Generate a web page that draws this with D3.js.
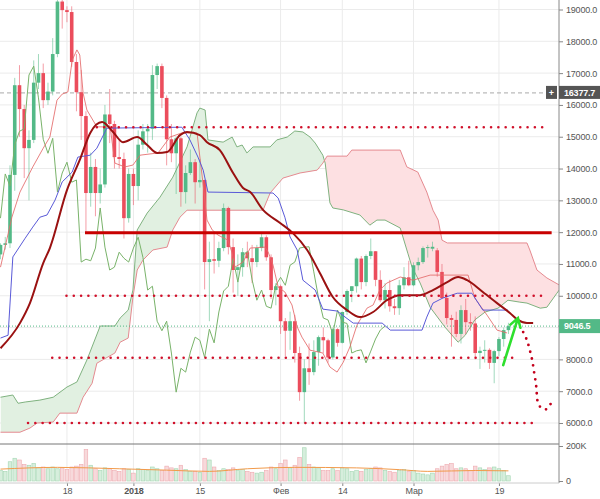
<!DOCTYPE html>
<html>
<head>
<meta charset="utf-8">
<script src="https://cdn.jsdelivr.net/npm/d3@7"></script>
<style>
  body { margin: 0; background: #fff; }
  svg { display: block; font-family: "Liberation Sans", Arial, sans-serif; }
</style>
</head>
<body>
<svg id="chart" width="600" height="499"></svg>
<script>
// daily BTC candles, day 0 = 4 Dec 2017 ... day 107 = 21 Mar 2018
var opens = [11300,11600,11650,13800,16620,15870,14640,14900,16700,17000,
  16150,16420,17600,19250,18980,18920,17350,16400,15650,13230,
  14050,13230,13500,15700,15400,14360,14300,12440,13830,13450,
  14750,15170,15250,16940,17220,16220,14920,14480,14950,13260,
  13860,14200,13570,13640,11060,11150,11100,11500,12760,11530,
  10810,10900,11370,11180,11060,11500,11840,11210,10180,10300,
  9200,8900,9200,8200,6970,7720,7600,8230,8700,8600,
  8060,8950,8520,9490,10150,10300,11170,10430,11250,11400,
  10500,9860,10180,9670,9610,10330,10580,10330,10960,11060,
  11500,11480,11430,10750,9930,9300,9240,8800,9550,9170,
  9130,8200,8270,8300,7890,8260,8640,8920];
var highs = [11650,11850,14100,16850,17250,16000,15200,17400,17600,17300,
  16700,18100,19700,19800,19100,19100,17600,17100,15800,14500,
  14300,14000,16000,16500,15500,14900,14500,14000,14000,15200,
  15400,15400,17250,17300,17300,16300,15400,15000,15000,14100,
  14600,14300,14300,13650,11700,12000,11700,12900,12800,11800,
  11300,11500,11700,11600,11600,12000,11900,11300,10400,10350,
  9300,9500,9400,8400,8000,8500,8600,8750,9000,8650,
  9000,8980,9500,10200,10300,11200,11250,11300,11800,11400,
  10800,10400,10500,9900,10500,10900,11100,11050,11200,11550,
  11600,11700,11500,11000,10100,9400,9500,9700,9900,9450,
  9350,8400,8600,8350,8300,8700,9000,9150];
var lows = [11150,11450,11500,13300,15000,13700,13000,14800,16500,15900,
  16000,16300,17500,18400,18600,17200,15800,14900,12000,12800,
  12500,12900,13400,14800,14000,14000,11800,12300,12850,13000,
  14600,14500,14900,16500,15900,14100,14200,13200,12800,12900,
  13800,12900,13400,10200,9200,10700,10900,11400,11300,10100,
  10000,10600,10900,10400,10900,11400,11100,9900,9700,8800,
  8100,8300,7900,6700,6000,7200,7500,7800,8200,7900,
  8000,8400,8500,9400,9800,10100,10200,10300,11150,10300,
  9800,9600,9500,9400,9400,10200,10300,10300,10800,11000,
  11200,11400,10600,9900,9100,8400,8700,8500,8800,8900,
  8000,7700,7900,7700,7250,8100,8400,8800];
var closes = [11600,11650,13800,16620,15870,14640,14900,16700,17000,16150,
  16420,17600,19250,18980,18920,17350,16400,15650,13230,14050,
  13230,13500,15700,15400,14360,14300,12440,13830,13450,14750,
  15170,15250,16940,17220,16220,14920,14480,14950,13260,13860,
  14200,13570,13640,11060,11150,11100,11500,12760,11530,10810,
  10900,11370,11180,11060,11500,11840,11210,10180,10300,9200,
  8900,9200,8200,6970,7720,7600,8230,8700,8600,8060,
  8950,8520,9490,10150,10300,11170,10430,11250,11400,10500,
  9860,10180,9670,9610,10330,10580,10330,10960,11060,11500,
  11530,11540,10750,9930,9300,9240,8800,9550,9170,9130,
  8200,8270,8300,7890,8260,8640,8920,9046.5];
// volume, thousands
var volumes = [60,55,110,130,120,95,90,100,75,80,
  70,80,70,75,65,80,85,95,180,90,
  70,60,75,70,60,55,70,65,45,70,
  65,60,80,70,60,85,75,70,90,65,
  55,55,50,130,120,80,60,70,65,75,
  60,65,55,50,45,50,60,80,70,100,
  120,75,90,135,190,95,80,75,60,60,
  70,60,75,70,55,60,55,65,70,80,
  75,60,55,50,60,65,55,60,45,40,
  35,45,70,85,95,100,70,75,70,60,
  85,75,65,75,80,70,60,30];
var volumeAvg = [[0,68],[12,78],[25,70],[35,62],[44,55],[52,70],[62,78],[75,75],[84,65],[90,55],[100,60],[107,58]];

// indicator lines: [day, price]
var movingAvg = [[0,8350],[4.1,9140],[6.2,9770],[9,11030],[10.4,11500],[14,13320],[16.7,14270],[18.9,15120],
  [21.4,15460],[23.7,15150],[25.8,14830],[28.8,14990],[30.9,14740],[33,14490],[35.1,14520],[37.8,15050],
  [39.3,15150],[42,15050],[43.5,14830],[46.2,14580],[49,13860],[51.1,13390],[52.6,13260],[55.3,12700],
  [58.9,12290],[61.6,11970],[64.6,11440],[67.3,10710],[70,9960],[73,9550],[75.7,9330],[78.5,9490],
  [81.4,9860],[84.2,10020],[88.4,10020],[91.1,10180],[94.1,10430],[96.4,10590],[98.3,10490],
  [101.6,10120],[104.6,9770],[107.3,9460],[109,9240],[110.9,9140],[112.2,9140]];
var kijun = [[0,8670],[1.6,8760],[2.6,11220],[5.2,11810],[6.8,12160],[8.3,12470],[9.8,12540],[11.5,13010],
  [13,13580],[15.1,13890],[16.3,14360],[18.9,14420],[20.3,14640],[22.4,15270],[38.2,15300],[39.9,14900],
  [41.6,14360],[42.7,13950],[43.7,13260],[57.4,13230],[58.5,13070],[59.9,12470],[61,11850],[62.5,11440],
  [63.7,10490],[66.3,10180],[67.9,9580],[70.9,9520],[74.3,9140],[80.4,9140],[82.1,8920],[88.8,8920],
  [89.8,9330],[91.1,9770],[93.2,9930],[96.2,10080],[99.3,10080],[101.6,9550],[106.9,9550]];
var tenkan = [[0,10900],[2.4,12470],[4.1,13260],[6.8,14050],[9,14640],[10.4,14990],[11.9,16150],[13,16340],
  [14.2,16410],[15.1,17410],[16.1,17730],[16.7,17570],[17.4,16370],[18.2,15840],[20.3,15310],[23.1,15310],
  [24.1,14170],[26.2,14050],[27.9,14110],[29.4,14420],[33.2,14490],[35.7,14990],[38.2,15120],[41.4,15120],
  [42.7,13480],[43.5,12380],[44.6,12070],[45.8,11910],[47.9,11750],[48.8,11340],[49.4,10900],[51.1,11060],
  [52.6,11500],[55.7,11530],[56.4,11370],[57.4,10970],[58.5,10270],[59.9,10120],[61.4,9710],[62.5,9020],
  [63.5,8700],[65.2,8290],[67.9,8200],[69.4,7760],[70.9,7600],[72.2,7910],[73.6,8390],[75.1,9080],
  [77.2,9610],[78.5,9710],[79.9,10180],[81.4,10400],[84.2,10590],[86.9,10490],[90.5,10650],[98.5,10650],
  [99.9,9930],[102.5,9390],[104.6,8920],[106.7,8830]];
var spanA = [[0,6810],[2.6,6880],[3.7,6620],[5.2,6660],[8.3,6720],[11.1,6810],[14,7130],[16.1,7290],
  [18.2,7980],[21,9050],[24.1,9050],[25.2,9300],[26.9,9550],[27.9,10180],[28.8,12070],[30.9,12600],
  [33.6,13100],[36.3,13730],[39.3,14680],[41.4,15750],[42,15900],[43.1,15840],[43.7,14900],[46.9,14830],
  [48.8,14990],[49.8,14680],[50.9,14740],[51.9,14490],[53.2,14680],[56.8,14680],[58.2,14900],[60.4,14990],
  [62,15180],[63.7,15150],[65.2,14990],[66.3,14800],[67.9,14420],[68.4,14170],[69.4,12920],[70,12760],
  [72.2,12700],[75.7,12540],[77.8,12220],[79.3,12380],[81,12380],[84.2,12130],[85.8,11340],[86.7,10900],
  [88.4,10400],[90.5,9640],[93.6,9020],[96.4,8540],[97.9,8760],[99.9,9240],[102.1,9490],[104.8,9610],
  [106.9,9860],[109.4,9800],[110.9,9770],[113.7,9610],[115.1,9640],[117.2,10080],[117.7,10180]];
var spanB = [[0,5710],[4.1,5710],[6.2,5840],[7.7,6000],[11.1,6030],[12.5,6310],[16.1,6310],[17.4,6810],
  [19.3,7250],[20.3,7880],[24.1,8200],[25.2,8540],[26.9,8670],[27.9,9960],[28.8,10810],[30,11120],
  [32.1,11440],[35.1,11530],[36.3,12070],[37.8,12470],[39.3,12690],[55.3,12690],[56.8,13230],[59.5,13700],
  [63.1,13860],[66.7,13950],[67.9,14170],[68.8,14390],[73,14390],[74,14580],[84.2,14580],[85.6,14050],
  [87.9,13890],[89.8,13260],[91.1,12690],[92.2,12380],[93,11750],[94.1,11660],[110.9,11660],[111.5,11440],
  [113,10810],[115.1,10560],[117.7,10340]];
var laggingShift = 26;

// drawn annotations
var dottedLevels = [15300, 10000, 8050, 6000];
var dottedFrom = [20.3, 13.9, 10.9, 5.8];
var dottedTo = [115.1, 114.7, 109, 113];
var solidLevel = 11980, solidFrom = 17.8, solidTo = 116.1;
var forecast = [[110.1,8860],[110.9,8600],[111.5,8290],[112,7980],[112.4,7600],[112.8,7220],[113,6880],
  [113.3,6590],[114.3,6440],[115.1,6440],[116.2,6690]];
var arrowTail = [105.9, 7820], arrowTip = [109, 9300];
var highMark = 16377.7, lastPrice = 9046.5;

var priceTicks = [6000,7000,8000,9000,10000,11000,12000,13000,14000,15000,16000,17000,18000,19000];
var priceLabels = [6000,7000,8000,10000,11000,12000,13000,14000,15000,16000,17000,18000,19000]; // 9000 sits under the last-price badge
var tickDays = [14, 28, 42, 59, 72, 87, 105];
var tickLabels = ["18", "2018", "15", "Фев", "14", "Мар", "19"];

var plotW = 559, priceH = 444, volBottom = 483;
var UP = "#53b987", DOWN = "#eb4d5c";

var svg = d3.select("#chart");
var x = d3.scaleLinear().domain([-0.105, 117.65]).range([0, plotW]);
var y = d3.scaleLinear().domain([6000, 19000]).range([423, 9.5]);
var yVol = d3.scaleLinear().domain([0, 200]).range([481, 446]);
var px = p => x(p[0]), py = p => y(p[1]);
var line = d3.line().x(px).y(py);

var defs = svg.append("defs");
defs.append("clipPath").attr("id", "clipPrice").append("rect").attr("width", plotW).attr("height", priceH);
defs.append("clipPath").attr("id", "clipVol").append("rect")
  .attr("y", priceH).attr("width", plotW).attr("height", volBottom - priceH);
defs.append("clipPath").attr("id", "aboveB").append("path")
  .attr("d", d3.area().x(px).y0(0).y1(py)(spanB));
defs.append("clipPath").attr("id", "belowB").append("path")
  .attr("d", d3.area().x(px).y0(priceH).y1(py)(spanB));

// grid
svg.append("g").selectAll("line.h").data(priceTicks).enter().append("line").attr("class", "h")
  .attr("x1", 0).attr("x2", plotW).attr("y1", d => y(d)).attr("y2", d => y(d))
  .attr("stroke", "#ebebeb");
svg.append("g").selectAll("line.v").data(tickDays).enter().append("line").attr("class", "v")
  .attr("x1", d => x(d)).attr("x2", d => x(d)).attr("y1", 0).attr("y2", volBottom)
  .attr("stroke", "#ebebeb");

var price = svg.append("g").attr("clip-path", "url(#clipPrice)");

// ichimoku cloud
price.append("path").attr("d", d3.area().x(px).y0(py).y1(priceH)(spanA))
  .attr("clip-path", "url(#aboveB)").attr("fill", "#e1f0e1");
price.append("path").attr("d", d3.area().x(px).y0(0).y1(py)(spanA))
  .attr("clip-path", "url(#belowB)").attr("fill", "#fde0e2");
price.append("path").attr("d", line(spanA)).attr("fill", "none").attr("stroke", "#7fb27f").attr("stroke-width", 1);
price.append("path").attr("d", line(spanB)).attr("fill", "none").attr("stroke", "#e58a90").attr("stroke-width", 1);

// reference lines
price.append("line").attr("x1", 0).attr("x2", x(114.7)).attr("y1", y(highMark)).attr("y2", y(highMark))
  .attr("stroke", "#aaa").attr("stroke-dasharray", "4,3");
price.append("line").attr("x1", 0).attr("x2", plotW).attr("y1", y(lastPrice)).attr("y2", y(lastPrice))
  .attr("stroke", UP).attr("stroke-dasharray", "1,2");

// candles
var idx = d3.range(opens.length);
var candles = price.append("g");
candles.selectAll("line").data(idx).enter().append("line")
  .attr("x1", i => x(i)).attr("x2", i => x(i))
  .attr("y1", i => y(highs[i])).attr("y2", i => y(lows[i]))
  .attr("stroke", i => closes[i] >= opens[i] ? UP : DOWN).attr("stroke-opacity", 0.55);
candles.selectAll("rect").data(idx).enter().append("rect")
  .attr("x", i => x(i) - 1.8).attr("width", 3.6)
  .attr("y", i => y(Math.max(opens[i], closes[i])))
  .attr("height", i => Math.max(1, Math.abs(y(opens[i]) - y(closes[i]))))
  .attr("fill", i => closes[i] >= opens[i] ? UP : DOWN);

// indicator lines
var lagging = d3.range(opens.length - laggingShift).map(i => [i, closes[i + laggingShift]]);
price.append("path").attr("d", line(lagging)).attr("fill", "none").attr("stroke", "#79b36a").attr("stroke-width", 1);
price.append("path").attr("d", line(tenkan)).attr("fill", "none").attr("stroke", "#e46a6a").attr("stroke-width", 1).attr("stroke-opacity", 0.85);
price.append("path").attr("d", line(kijun)).attr("fill", "none").attr("stroke", "#5a5ad8").attr("stroke-width", 1);
price.append("path").attr("d", d3.line().x(px).y(py).curve(d3.curveMonotoneX)(movingAvg))
  .attr("fill", "none").attr("stroke", "#9a1111").attr("stroke-width", 2);

// drawn levels
price.selectAll("line.dot").data(dottedLevels).enter().append("line").attr("class", "dot")
  .attr("x1", (d, i) => x(dottedFrom[i])).attr("x2", (d, i) => x(dottedTo[i]))
  .attr("y1", d => y(d)).attr("y2", d => y(d))
  .attr("stroke", "#d0102a").attr("stroke-width", 2.6)
  .attr("stroke-linecap", "round").attr("stroke-dasharray", "0,7.3");
price.append("line").attr("x1", x(solidFrom)).attr("x2", x(solidTo))
  .attr("y1", y(solidLevel)).attr("y2", y(solidLevel))
  .attr("stroke", "#c80000").attr("stroke-width", 3);
price.append("path").attr("d", d3.line().x(px).y(py).curve(d3.curveCatmullRom)(forecast))
  .attr("fill", "none").attr("stroke", "#c4001c").attr("stroke-width", 2.8)
  .attr("stroke-linecap", "round").attr("stroke-dasharray", "0,7");

// green arrow
var ax0 = x(arrowTail[0]), ay0 = y(arrowTail[1]), ax1 = x(arrowTip[0]), ay1 = y(arrowTip[1]);
var ang = Math.atan2(ay1 - ay0, ax1 - ax0), hl = 10;
price.append("path")
  .attr("d", "M" + ax0 + "," + ay0 + "L" + ax1 + "," + ay1 +
    "M" + (ax1 - hl * Math.cos(ang - 0.55)) + "," + (ay1 - hl * Math.sin(ang - 0.55)) +
    "L" + ax1 + "," + ay1 +
    "L" + (ax1 - hl * Math.cos(ang + 0.55)) + "," + (ay1 - hl * Math.sin(ang + 0.55)))
  .attr("fill", "none").attr("stroke", "#2ee02e").attr("stroke-width", 2.6).attr("stroke-linecap", "round");

// volume panel
var vol = svg.append("g").attr("clip-path", "url(#clipVol)");
vol.selectAll("rect").data(idx).enter().append("rect")
  .attr("x", i => x(i) - 1.8).attr("width", 3.6)
  .attr("y", i => yVol(volumes[i])).attr("height", i => yVol(0) - yVol(volumes[i]))
  .attr("fill", i => closes[i] >= opens[i] ? "#d6eedc" : "#f7d9db")
  .attr("stroke", i => closes[i] >= opens[i] ? "#a3d6b2" : "#eeaab0").attr("stroke-width", 0.6);
vol.append("path").attr("d", d3.line().x(px).y(p => yVol(p[1])).curve(d3.curveMonotoneX)(volumeAvg))
  .attr("fill", "none").attr("stroke", "#f29a4a").attr("stroke-width", 1);

svg.append("line").attr("x1", 0).attr("x2", plotW).attr("y1", priceH).attr("y2", priceH)
  .attr("stroke", "#777");
svg.append("line").attr("x1", plotW).attr("x2", plotW).attr("y1", 0).attr("y2", volBottom)
  .attr("stroke", "#888");

// axes
function styleAxis(g) {
  g.select(".domain").remove();
  g.selectAll("line").attr("stroke", "#888");
  g.selectAll("text").attr("fill", "#555").attr("font-size", 9)
    .attr("font-family", "Liberation Sans, Arial, sans-serif").attr("letter-spacing", -0.2);
}
svg.append("g").attr("transform", "translate(" + plotW + ",0)")
  .call(d3.axisRight(y).tickValues(priceLabels).tickFormat(d3.format(".1f")).tickSize(4).tickPadding(3))
  .call(styleAxis);
svg.append("g").attr("transform", "translate(" + plotW + ",0)")
  .call(d3.axisRight(yVol).tickValues([0, 200]).tickFormat(v => v ? v + "K" : "0").tickSize(4).tickPadding(3))
  .call(styleAxis);
var xAxis = svg.append("g").attr("transform", "translate(0," + volBottom + ")")
  .call(d3.axisBottom(x).tickValues(tickDays).tickFormat((d, i) => tickLabels[i]).tickSize(3).tickPadding(2))
  .call(styleAxis);
xAxis.selectAll("text").attr("font-weight", (d, i) => tickLabels[i] === "2018" ? "bold" : null);
svg.append("line").attr("x1", 0).attr("x2", plotW).attr("y1", volBottom).attr("y2", volBottom)
  .attr("stroke", "#ccc");

// price badges
var badges = svg.append("g").attr("font-size", 9).attr("font-weight", "bold").attr("fill", "#fff");
badges.append("rect").attr("x", 546).attr("y", y(highMark) - 7).attr("width", 11).attr("height", 13).attr("fill", "#555");
badges.append("text").attr("x", 551.5).attr("y", y(highMark)).attr("dy", "0.35em").attr("text-anchor", "middle").text("+");
badges.append("rect").attr("x", plotW).attr("y", y(highMark) - 7).attr("width", 41).attr("height", 13).attr("fill", "#555");
badges.append("text").attr("x", plotW + 5).attr("y", y(highMark)).attr("dy", "0.35em").attr("letter-spacing", -0.2)
  .text(d3.format(".1f")(highMark));
badges.append("rect").attr("x", plotW).attr("y", y(lastPrice) - 7).attr("width", 41).attr("height", 14).attr("fill", UP);
badges.append("text").attr("x", plotW + 5).attr("y", y(lastPrice)).attr("dy", "0.35em").attr("letter-spacing", -0.2)
  .text(d3.format(".1f")(lastPrice));
</script>
</body>
</html>
